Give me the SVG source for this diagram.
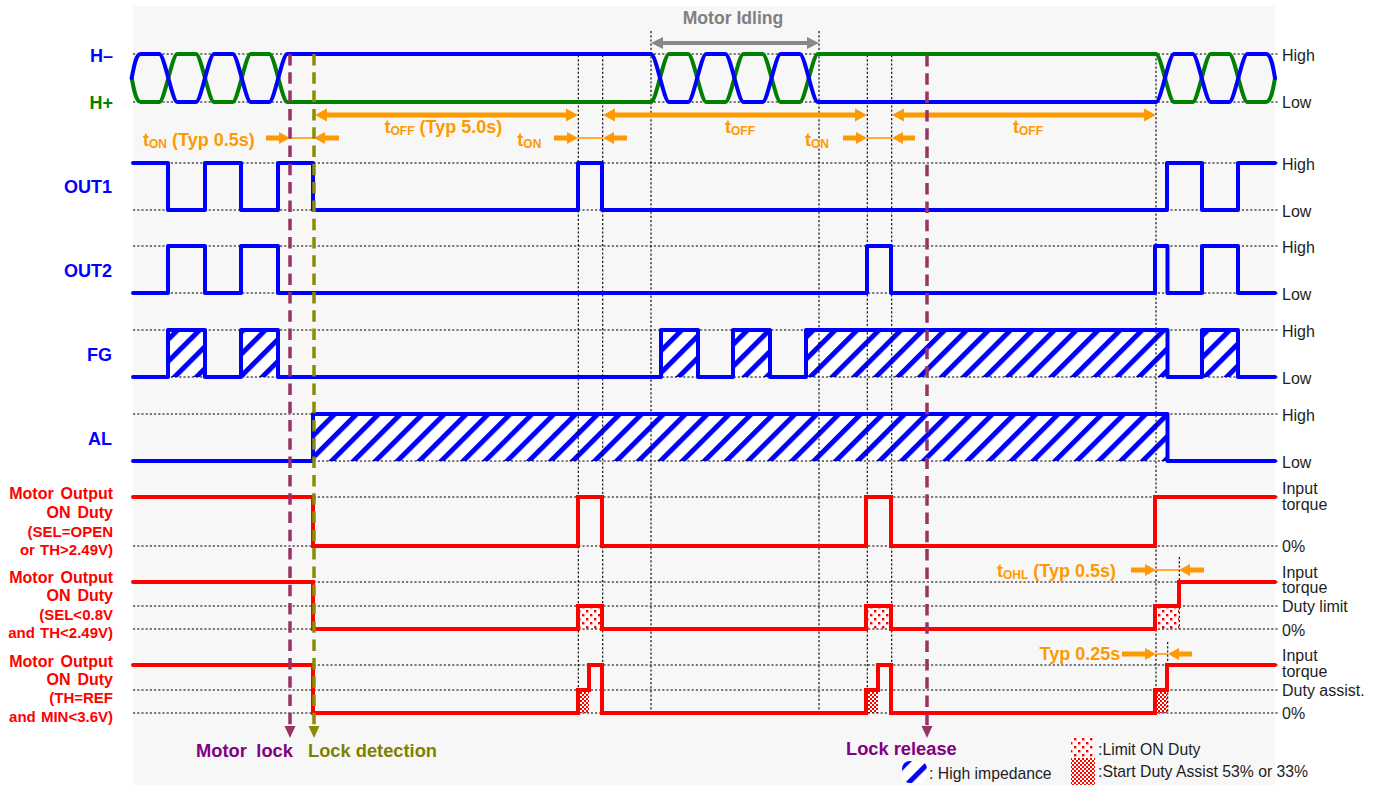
<svg xmlns="http://www.w3.org/2000/svg" width="1380" height="785" viewBox="0 0 1380 785">
<style>
text{font-family:"Liberation Sans",Arial,sans-serif}
.b{font-weight:bold}
.lbl{font-size:18px;font-weight:bold;text-anchor:end}
.rl{font-size:16px;fill:#1e1e1e}
.lg{font-size:15.75px;fill:#1e1e1e}
.red{font-weight:bold;fill:#ff0000;text-anchor:end}
.r1{font-size:16px;word-spacing:2.5px}
.r2{font-size:15px;word-spacing:1px}
.ot{font-size:18px;font-weight:bold;fill:#ff9900}
.sub{font-size:12px}
.dot{stroke:#000;stroke-width:1.1;stroke-dasharray:2.2 2;fill:none}
.wb{stroke:#0000ff;stroke-width:4;fill:none;stroke-linejoin:round;stroke-linecap:round}
.wg{stroke:#008000;stroke-width:4;fill:none;stroke-linejoin:round;stroke-linecap:round}
.wr{stroke:#ff0000;stroke-width:4;fill:none;stroke-linejoin:miter;stroke-linecap:round}
.oa{fill:#ff9900}
.ol{stroke:#ff9900;stroke-width:1.6}
.dp{stroke:#993366;stroke-width:3.5;stroke-dasharray:11.5 6.8;fill:none}
.dol{stroke:#8c8c00;stroke-width:3.5;stroke-dasharray:11.5 6.8;fill:none}
</style>
<defs>
<pattern id="hz" patternUnits="userSpaceOnUse" width="15.5" height="15.5" patternTransform="rotate(45)">
<rect width="15.5" height="15.5" fill="#fff"/>
<rect width="5" height="15.5" fill="#0000ff"/>
</pattern>
<pattern id="lim" patternUnits="userSpaceOnUse" width="8" height="8" x="1" y="1">
<rect width="8" height="8" fill="#fff"/>
<rect x="1" y="1" width="2.4" height="2.4" fill="#ff0000"/>
<rect x="5" y="5" width="2.4" height="2.4" fill="#ff0000"/>
</pattern>
<pattern id="chk" patternUnits="userSpaceOnUse" width="4" height="4">
<rect width="4" height="4" fill="#fff"/>
<rect width="2" height="2" fill="#ff0000"/>
<rect x="2" y="2" width="2" height="2" fill="#ff0000"/>
</pattern>
</defs>

<rect x="133" y="6" width="1142" height="779" fill="#f7f7f7"/>

<g id="fills">
<rect x="168" y="330" width="37" height="47" fill="url(#hz)"/>
<rect x="241" y="330" width="37" height="47" fill="url(#hz)"/>
<rect x="661" y="330" width="37" height="47" fill="url(#hz)"/>
<rect x="733" y="330" width="37" height="47" fill="url(#hz)"/>
<rect x="806" y="330" width="361.5" height="47" fill="url(#hz)"/>
<rect x="1202" y="330" width="36" height="47" fill="url(#hz)"/>
<rect x="313" y="414" width="854.5" height="47" fill="url(#hz)"/>
<rect x="578" y="606" width="24" height="23" fill="url(#lim)"/>
<rect x="866" y="606" width="25" height="23" fill="url(#lim)"/>
<rect x="1155" y="606" width="24" height="23" fill="url(#lim)"/>
<rect x="578" y="690" width="11" height="23" fill="url(#chk)"/>
<rect x="866" y="690" width="12" height="23" fill="url(#chk)"/>
<rect x="1155" y="690" width="12" height="23" fill="url(#chk)"/>
</g>

<g id="gridlines">
<path class="dot" d="M133,54H1278M133,102H1278M133,163H1278M133,210H1278M133,246H1278M133,293H1278M133,330H1278M133,377H1278M133,414H1278M133,461H1278M133,497H1278M133,546H1278M133,582H1278M133,606H1278M133,629H1278M133,665H1278M133,690H1278M133,713H1278"/>
<path class="dot" d="M651,31V714M819,31V714M578.3,55V714M602.7,55V714M867.3,55V714M891.7,55V714M1156,54V714M1179.3,557V629M1167.7,642V713"/>
</g>

<g id="sig-H">
<path class="wg" d="M131.7,78 C134,90 136,102 140.7,102 L159.3,102 C164.3,102 172.3,54 177.3,54 L196,54 C201,54 209,102 214,102 L232.7,102 C237.7,102 245.7,54 250.7,54 L269.3,54 C274.3,54 282.3,102 287.3,102 L651,102 C656,102 664,54 669,54 L688.2,54 C693.2,54 701.2,102 706.2,102 L725.4,102 C730.4,102 738.4,54 743.4,54 L762.6,54 C767.6,54 775.6,102 780.6,102 L799.8,102 C804.8,102 812.8,54 817.8,54 L1156,54 C1161,54 1169,102 1174,102 L1192.7,102 C1197.7,102 1205.7,54 1210.7,54 L1229.3,54 C1234.3,54 1242.3,102 1247.3,102 L1266,102 C1271,102 1273,90 1275,78"/>
<path class="wb" d="M131.7,78 C134,66 136,54 140.7,54 L159.3,54 C164.3,54 172.3,102 177.3,102 L196,102 C201,102 209,54 214,54 L232.7,54 C237.7,54 245.7,102 250.7,102 L269.3,102 C274.3,102 282.3,54 287.3,54 L651,54 C656,54 664,102 669,102 L688.2,102 C693.2,102 701.2,54 706.2,54 L725.4,54 C730.4,54 738.4,102 743.4,102 L762.6,102 C767.6,102 775.6,54 780.6,54 L799.8,54 C804.8,54 812.8,102 817.8,102 L1156,102 C1161,102 1169,54 1174,54 L1192.7,54 C1197.7,54 1205.7,102 1210.7,102 L1229.3,102 C1234.3,102 1242.3,54 1247.3,54 L1266,54 C1271,54 1273,66 1275,78"/>
<text class="lbl" x="113" y="62" fill="#0000ff">H–</text>
<text class="lbl" x="113" y="109" fill="#008000">H+</text>
<text class="rl" x="1282" y="61">High</text>
<text class="rl" x="1282" y="108">Low</text>
</g>

<g id="sig-OUT1">
<path class="wb" d="M133,163H168V210H205V163H241V210H278V163H313V210H578V163H602V210H1167V163H1202V210H1238V163H1275"/>
<text class="lbl" x="112" y="193" fill="#0000ff">OUT1</text>
<text class="rl" x="1282" y="169.5">High</text>
<text class="rl" x="1282" y="216.5">Low</text>
</g>

<g id="sig-OUT2">
<path class="wb" d="M133,293H168V246H205V293H241V246H278V293H867V246H891V293H1155V246H1167.5V293H1202V246H1238V293H1275"/>
<text class="lbl" x="112" y="277" fill="#0000ff">OUT2</text>
<text class="rl" x="1282" y="252.5">High</text>
<text class="rl" x="1282" y="299.5">Low</text>
</g>

<g id="sig-FG">
<path class="wb" d="M133,377H168V330H205V377H241V330H278V377H661V330H698V377H733V330H770V377H806V330H1167.5V377H1202V330H1238V377H1275"/>
<text class="lbl" x="112" y="361" fill="#0000ff">FG</text>
<text class="rl" x="1282" y="336.5">High</text>
<text class="rl" x="1282" y="383.5">Low</text>
</g>

<g id="sig-AL">
<path class="wb" d="M133,461H313V414H1167.5V461H1275"/>
<text class="lbl" x="112" y="445" fill="#0000ff">AL</text>
<text class="rl" x="1282" y="420.5">High</text>
<text class="rl" x="1282" y="467.5">Low</text>
</g>

<g id="sig-M1">
<path class="wr" d="M133,497H313V546H578V497H602V546H866V497H891V546H1155V497H1275"/>
<text class="red r1" x="113" y="499">Motor Output</text>
<text class="red r1" x="113" y="517.7">ON Duty</text>
<text class="red r2" x="113" y="536.5">(SEL=OPEN</text>
<text class="red r2" x="113" y="554.5">or TH&gt;2.49V)</text>
<text class="rl" x="1282" y="494">Input</text>
<text class="rl" x="1282" y="510">torque</text>
<text class="rl" x="1282" y="552">0%</text>
</g>

<g id="sig-M2">
<path class="wr" d="M133,582H313V629H578V606H602V629H866V606H891V629H1155V606H1179V582H1275"/>
<text class="red r1" x="113" y="582.7">Motor Output</text>
<text class="red r1" x="113" y="601">ON Duty</text>
<text class="red r2" x="113" y="619.5">(SEL&lt;0.8V</text>
<text class="red r2" x="113" y="638.3">and TH&lt;2.49V)</text>
<text class="rl" x="1282" y="578">Input</text>
<text class="rl" x="1282" y="593">torque</text>
<text class="rl" x="1282" y="612">Duty limit</text>
<text class="rl" x="1282" y="636">0%</text>
</g>

<g id="sig-M3">
<path class="wr" d="M133,665H313V713H578V690H589V665H602V713H866V690H878V665H891V713H1155V690H1167V665H1275"/>
<text class="red r1" x="113" y="666.7">Motor Output</text>
<text class="red r1" x="113" y="684.5">ON Duty</text>
<text class="red r2" x="113" y="703.3">(TH=REF</text>
<text class="red r2" x="113" y="721.7">and MIN&lt;3.6V)</text>
<text class="rl" x="1282" y="661">Input</text>
<text class="rl" x="1282" y="677">torque</text>
<text class="rl" x="1282" y="696">Duty assist.</text>
<text class="rl" x="1282" y="719">0%</text>
</g>

<g id="connectors">
<path d="M651,43 L663,37 L663,41 L807,41 L807,37 L819,43 L807,49 L807,45 L663,45 L663,49 Z" fill="#888888"/>
<path class="oa" d="M315,115 L327,108.5 L327,112.5 L566,112.5 L566,108.5 L578,115 L566,121.5 L566,117.5 L327,117.5 L327,121.5 Z"/>
<path class="oa" d="M603,115 L615,108.5 L615,112.5 L855,112.5 L855,108.5 L867,115 L855,121.5 L855,117.5 L615,117.5 L615,121.5 Z"/>
<path class="oa" d="M892,115 L904,108.5 L904,112.5 L1144,112.5 L1144,108.5 L1156,115 L1144,121.5 L1144,117.5 L904,117.5 L904,121.5 Z"/>
<path class="oa" d="M266,135.5H279V132L290,138L279,144V140.5H266Z"/>
<path class="oa" d="M339,135.5H325V132L314,138L325,144V140.5H339Z"/>
<line class="ol" x1="290" y1="138" x2="314" y2="138"/>
<path class="oa" d="M554,135.5H567V132L578,138L567,144V140.5H554Z"/>
<path class="oa" d="M627,135.5H614V132L603,138L614,144V140.5H627Z"/>
<line class="ol" x1="578" y1="138" x2="603" y2="138"/>
<path class="oa" d="M843,135.5H856V132L867,138L856,144V140.5H843Z"/>
<path class="oa" d="M915,135.5H903V132L892,138L903,144V140.5H915Z"/>
<line class="ol" x1="867" y1="138" x2="892" y2="138"/>
<path class="oa" d="M1131,567.5H1145V564L1156,570L1145,576V572.5H1131Z"/>
<path class="oa" d="M1204,567.5H1190V564L1179,570L1190,576V572.5H1204Z"/>
<line class="ol" x1="1156" y1="570" x2="1179" y2="570"/>
<path class="oa" d="M1122,651.5H1145V648L1156,654L1145,660V656.5H1122Z"/>
<path class="oa" d="M1192,651.5H1179V648L1168,654L1179,660V656.5H1192Z"/>
<line class="ol" x1="1156" y1="654" x2="1168" y2="654"/>
<path class="dp" d="M290,54V727"/>
<path d="M284.5,726L295.5,726L290,738Z" fill="#993366"/>
<path class="dol" d="M314,54V727"/>
<path d="M308.5,726L319.5,726L314,738Z" fill="#8c8c00"/>
<path class="dp" d="M927,55V726"/>
<path d="M921.5,726L932.5,726L927,738Z" fill="#993366"/>
</g>

<g id="annotations">
<text class="b" x="733" y="24" text-anchor="middle" font-size="17.6" fill="#808080">Motor Idling</text>
<text class="ot" x="143" y="145.5">t<tspan class="sub" dy="2">ON</tspan><tspan dy="-2"> (Typ 0.5s)</tspan></text>
<text class="ot" x="384.5" y="133.3">t<tspan class="sub" dy="2">OFF</tspan><tspan dy="-2"> (Typ 5.0s)</tspan></text>
<text class="ot" x="517.3" y="145.5">t<tspan class="sub" dy="2">ON</tspan></text>
<text class="ot" x="725" y="133.3">t<tspan class="sub" dy="2">OFF</tspan></text>
<text class="ot" x="805" y="145.5">t<tspan class="sub" dy="2">ON</tspan></text>
<text class="ot" x="1013" y="133.3">t<tspan class="sub" dy="2">OFF</tspan></text>
<text class="ot" x="997" y="577">t<tspan class="sub" dy="2">OHL</tspan><tspan dy="-2"> (Typ 0.5s)</tspan></text>
<text class="ot" x="1039.5" y="660">Typ 0.25s</text>
<text class="b" x="196" y="756.5" font-size="18.3" fill="#800080" word-spacing="4.5">Motor lock</text>
<text class="b" x="308" y="756.5" font-size="18.3" fill="#808000">Lock detection</text>
<text class="b" x="846" y="755" font-size="18.3" fill="#800080">Lock release</text>
</g>

<g id="legend">
<rect x="902" y="761" width="25" height="22" rx="8" fill="url(#hz)"/>
<text class="lg" x="929" y="779">: High impedance</text>
<rect x="1071" y="737" width="23" height="21" fill="url(#lim)"/>
<text class="lg" x="1098" y="755">:Limit ON Duty</text>
<rect x="1071" y="758" width="24" height="27" fill="url(#chk)"/>
<text class="lg" x="1098" y="777">:Start Duty Assist 53% or 33%</text>
</g>
</svg>
